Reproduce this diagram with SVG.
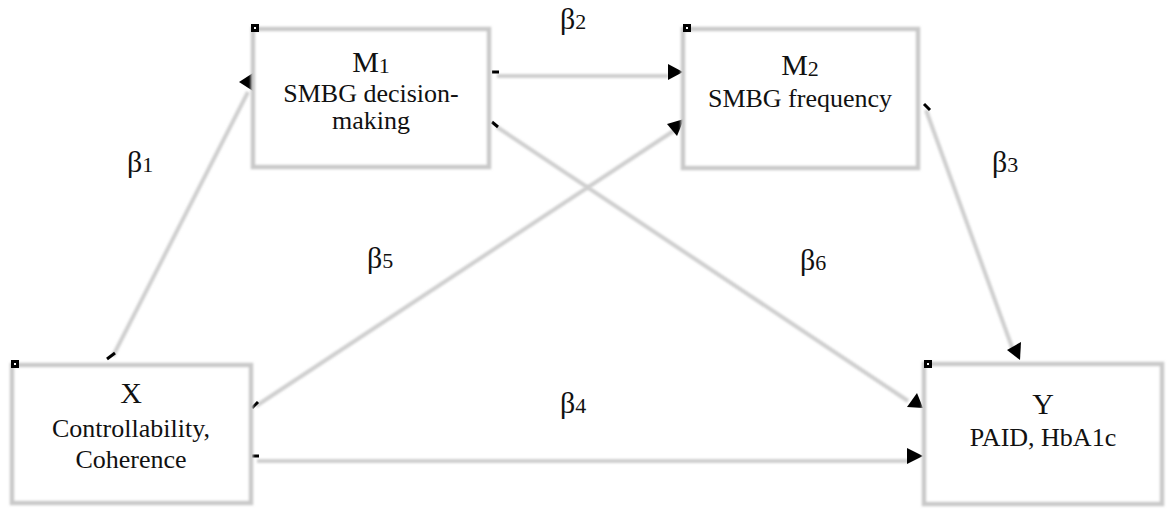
<svg xmlns="http://www.w3.org/2000/svg" width="1169" height="514" viewBox="0 0 1169 514">
<defs>
<filter id="soft" filterUnits="userSpaceOnUse" x="0" y="0" width="1169" height="514">
<feGaussianBlur stdDeviation="0.9"/>
</filter>
<style>
.box{fill:#ffffff;stroke:#c9c9c9;stroke-width:4.5;filter:url(#soft)}
.con{fill:none;stroke:#cfcfcf;stroke-width:4;filter:url(#soft)}
.tick{stroke:#000;stroke-width:3;fill:none}
.head{fill:#000}
.mk{fill:#000}
.mkc{fill:#fff}
text{font-family:"Liberation Serif","Times New Roman",serif;fill:#111}
.t{text-anchor:middle}
.h{font-size:30px}
.s{font-size:26px}
.b{font-size:30px}
.sub{font-size:22px}
</style>
</defs>
<rect width="1169" height="514" fill="#fff"/>

<g id="connectors">
<line class="con" x1="113" y1="356" x2="248" y2="92"/>
<line class="con" x1="497" y1="76" x2="668" y2="76"/>
<line class="con" x1="256" y1="406" x2="678" y2="128"/>
<line class="con" x1="497" y1="127" x2="908" y2="401"/>
<line class="con" x1="257" y1="461" x2="908" y2="461"/>
<line class="con" x1="926" y1="110" x2="1013" y2="350"/>
<polygon class="head" points="239,82 253,73 253,91"/>
<polygon class="head" points="683,72 668,64 668,80"/>
<polygon class="head" points="667,124 684,119 677,136"/>
<polygon class="head" points="917,393 907,407 923,408"/>
<polygon class="head" points="923,456 907,448 907,464"/>
<polygon class="head" points="1007,350 1021,342 1020,360"/>
<line class="tick" x1="107" y1="359" x2="115" y2="353"/>
<line class="tick" x1="252" y1="408" x2="258" y2="402"/>
<line class="tick" x1="252" y1="456" x2="259" y2="456"/>
<line class="tick" x1="492" y1="72" x2="499" y2="72"/>
<line class="tick" x1="492" y1="122" x2="498" y2="127"/>
<line class="tick" x1="924" y1="104" x2="930" y2="110"/>
<text class="b" x="127" y="172">β<tspan class="sub">1</tspan></text>
<text class="b" x="560" y="29">β<tspan class="sub">2</tspan></text>
<text class="b" x="992" y="172">β<tspan class="sub">3</tspan></text>
<text class="b" x="560" y="413">β<tspan class="sub">4</tspan></text>
<text class="b" x="367" y="268">β<tspan class="sub">5</tspan></text>
<text class="b" x="800" y="270">β<tspan class="sub">6</tspan></text>
</g>

<g id="node-m1">
<rect class="box" x="253" y="29" width="236" height="138"/>
<rect class="mk" x="251" y="24" width="8" height="8"/><rect class="mkc" x="254" y="27" width="2" height="2"/>
<text class="t h" x="371" y="72">M<tspan class="sub" dy="1">1</tspan></text>
<text class="t s" x="371" y="102">SMBG decision-</text>
<text class="t s" x="371" y="129">making</text>
</g>

<g id="node-m2">
<rect class="box" x="683" y="29" width="235" height="139"/>
<rect class="mk" x="683" y="24" width="8" height="8"/><rect class="mkc" x="686" y="27" width="2" height="2"/>
<text class="t h" x="800" y="75">M<tspan class="sub" dy="1">2</tspan></text>
<text class="t s" x="800" y="107">SMBG frequency</text>
</g>

<g id="node-x">
<rect class="box" x="12" y="365" width="239" height="138"/>
<rect class="mk" x="11" y="360" width="8" height="8"/><rect class="mkc" x="14" y="363" width="2" height="2"/>
<text class="t h" x="131" y="403">X</text>
<text class="t s" x="131" y="437">Controllability,</text>
<text class="t s" x="131" y="468">Coherence</text>
</g>

<g id="node-y">
<rect class="box" x="924" y="364" width="238" height="140"/>
<rect class="mk" x="924" y="360" width="8" height="8"/><rect class="mkc" x="927" y="363" width="2" height="2"/>
<text class="t h" x="1043" y="414">Y</text>
<text class="t s" x="1043" y="446">PAID, HbA1c</text>
</g>
</svg>
